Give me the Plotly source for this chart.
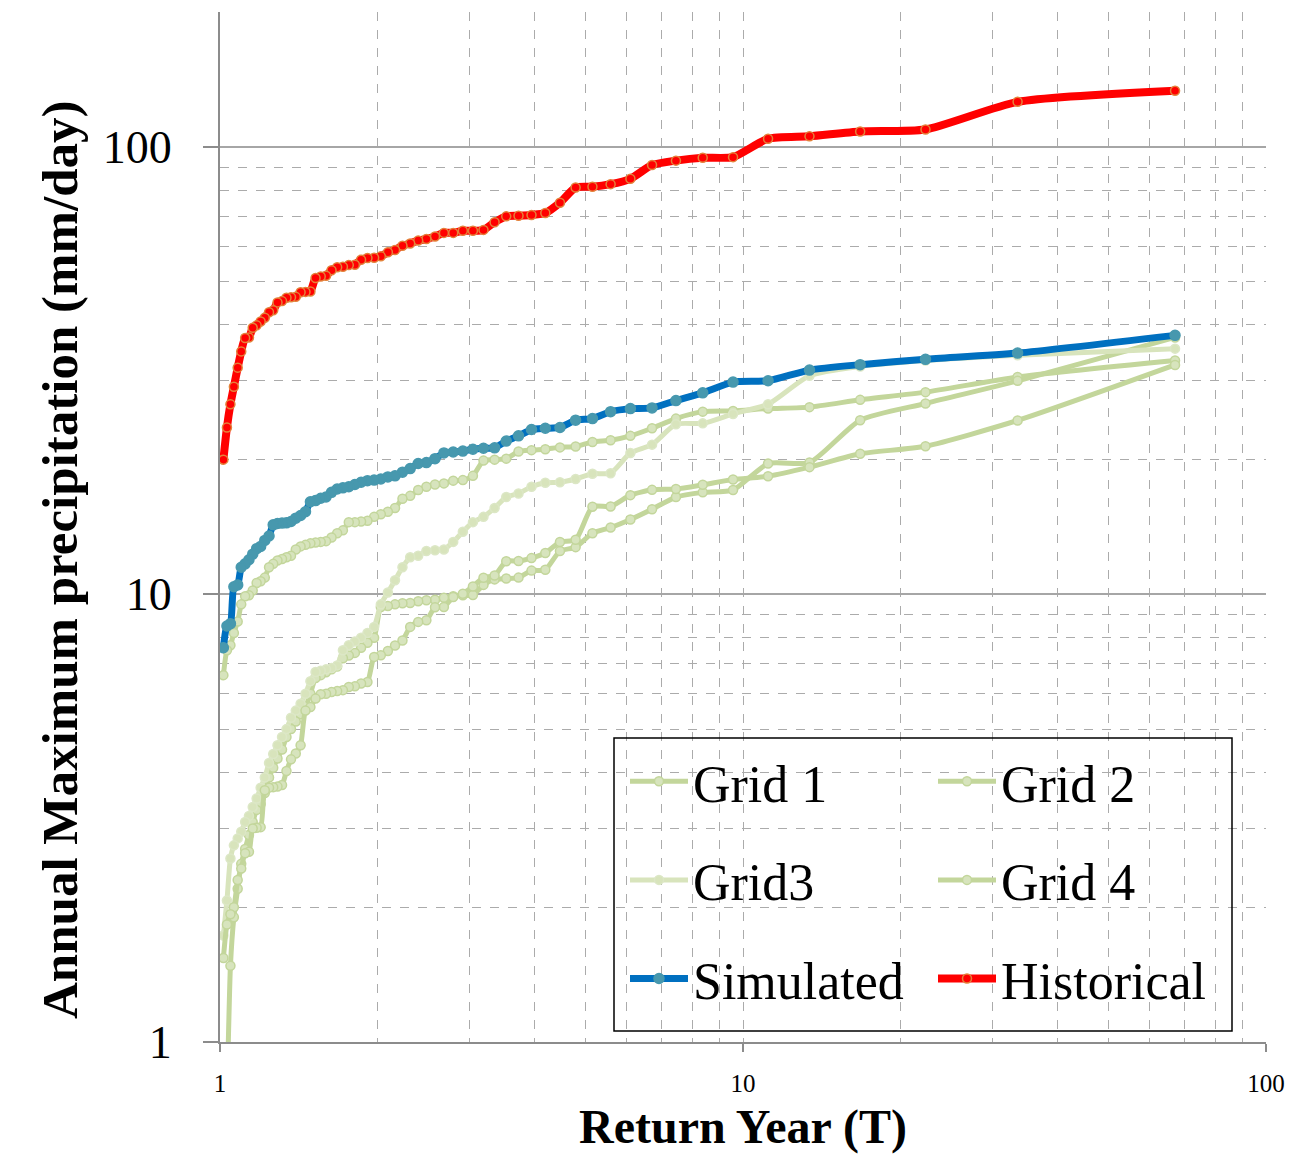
import plotly.graph_objects as go

# Return periods (Weibull plotting position, 66 ranked annual maxima)
return_years = [
    67.0, 33.5, 22.333, 16.75, 13.4, 11.167, 9.571, 8.375, 7.444, 6.7,
    6.091, 5.583, 5.154, 4.786, 4.467, 4.188, 3.941, 3.722, 3.526, 3.35,
    3.19, 3.045, 2.913, 2.792, 2.68, 2.577, 2.481, 2.393, 2.31, 2.233,
    2.161, 2.094, 2.03, 1.971, 1.914, 1.861, 1.811, 1.763, 1.718, 1.675,
    1.634, 1.595, 1.558, 1.523, 1.489, 1.457, 1.426, 1.396, 1.367, 1.34,
    1.314, 1.288, 1.264, 1.241, 1.218, 1.196, 1.175, 1.155, 1.136, 1.117,
    1.098, 1.081, 1.063, 1.047, 1.031, 1.015,
]

grid1 = [
    33.3, 30.6, 28.3, 27.2, 26.2, 26.0, 25.7, 25.6, 24.7, 23.5,
    22.6, 22.1, 21.9, 21.4, 21.3, 21.1, 21.0, 20.85, 20.1, 20.0,
    19.9, 18.4, 18.0, 17.95, 17.7, 17.6, 17.4, 17.1, 16.6, 16.35,
    15.6, 15.3, 15.1, 14.9, 14.6, 14.55, 14.5, 14.5, 13.9, 13.7,
    13.4, 13.15, 13.1, 13.05, 13.0, 12.9, 12.8, 12.6, 12.2, 12.1,
    12.0, 11.9, 11.7, 11.5, 10.9, 10.7, 10.6, 10.2, 9.95, 9.9,
    9.5, 8.7, 8.2, 7.7, 7.5, 6.6,
]

grid2 = [
    37.5, 30.0, 26.7, 24.5, 19.7, 19.6, 17.1, 16.9, 16.5, 15.5,
    14.7, 14.1, 13.7, 12.75, 12.5, 11.35, 11.3, 10.9, 10.85, 10.8,
    10.5, 9.97, 9.95, 9.9, 9.83, 9.73, 9.7, 9.65, 9.57, 9.55,
    9.5, 9.42, 9.37, 8.0, 7.8, 7.6, 7.4, 7.3, 7.2, 6.9,
    6.8, 6.7, 6.6, 6.5, 6.0, 5.6, 5.4, 5.2, 5.0, 4.8,
    4.5, 4.3, 4.1, 3.9, 3.6, 3.4, 3.3, 3.1, 2.9, 2.7,
    2.5, 2.2, 1.9, 1.48, 0.77, 0.55,
]

grid3 = [
    35.4, 34.2, 33.3, 32.3, 30.8, 26.6, 25.3, 24.1, 24.0, 21.6,
    20.7, 18.65, 18.6, 18.1, 17.8, 17.75, 17.4, 16.8, 16.5, 15.6,
    14.9, 14.5, 13.8, 13.1, 12.6, 12.55, 12.5, 12.2, 12.1, 11.5,
    10.75, 10.1, 9.5, 8.46, 8.2, 8.0, 7.85, 7.7, 7.5, 6.94,
    6.85, 6.8, 6.75, 6.71, 6.4, 6.0, 5.7, 5.5, 5.3, 5.0,
    4.8, 4.6, 4.4, 4.2, 3.9, 3.7, 3.5, 3.35, 3.2, 3.1,
    2.95, 2.85, 2.75, 2.57, 2.07, 1.73,
]

grid4 = [
    32.55, 24.46, 21.43, 20.61, 19.24, 18.36, 18.05, 17.57, 17.2, 17.12,
    16.66, 15.72, 15.7, 13.24, 13.09, 12.37, 12.05, 11.87, 11.86, 11.02,
    10.89, 10.42, 10.03, 9.86, 9.37, 9.36, 8.75, 8.68, 8.46, 7.89,
    7.69, 7.47, 7.31, 7.25, 6.37, 6.32, 6.23, 6.21, 6.11, 6.08,
    6.05, 6.0, 5.98, 5.85, 5.6, 5.5, 4.6, 4.41, 4.28, 4.03,
    3.75, 3.72, 3.71, 3.7, 3.65, 3.02, 3.01, 3.0, 2.66, 2.64,
    2.44, 2.3, 2.0, 1.93, 1.83, 1.54,
]

simulated = [
    37.9, 34.6, 33.5, 32.6, 31.7, 30.0, 29.8, 28.2, 27.1, 26.1,
    26.0, 25.6, 24.7, 24.5, 23.6, 23.5, 23.35, 22.6, 22.0, 21.25,
    21.2, 21.1, 20.9, 20.8, 20.7, 20.1, 19.7, 19.6, 19.1, 18.75,
    18.4, 18.3, 18.1, 18.0, 17.95, 17.8, 17.6, 17.4, 17.3, 17.2,
    16.9, 16.5, 16.4, 16.2, 16.1, 15.3, 15.0, 14.8, 14.55, 14.45,
    14.43, 14.4, 14.3, 13.5, 13.2, 12.8, 12.65, 12.3, 11.95, 11.7,
    11.5, 10.5, 10.4, 8.6, 8.5, 7.6,
]

historical = [
    133.4, 126.0, 109.3, 108.2, 105.5, 104.2, 94.8, 94.5, 93.1, 91.0,
    84.8, 82.5, 81.4, 81.1, 75.0, 71.1, 70.4, 70.1, 69.9, 67.8,
    65.2, 64.9, 64.9, 64.2, 64.2, 63.0, 62.2, 61.7, 60.8, 60.1,
    58.8, 58.1, 56.9, 56.5, 56.4, 55.9, 54.5, 54.4, 53.95, 53.8,
    53.0, 51.5, 51.3, 50.9, 47.5, 47.4, 47.3, 46.2, 46.1, 46.0,
    45.2, 44.9, 43.1, 42.7, 41.5, 40.7, 39.9, 39.4, 37.5, 37.4,
    34.9, 32.1, 29.1, 26.6, 23.6, 20.0,
]

FONT = "Liberation Serif, Times New Roman, serif"
GREEN = "#C3D69B"
GREEN_FILL = "#D7E4BD"
PALE = "#D8E4BC"
PALE_EDGE = "#DCE7C6"

series = [
    ("Grid 1", grid1, GREEN, GREEN_FILL, GREEN, 5, 9, "legend"),
    ("Grid 2", grid2, GREEN, GREEN_FILL, GREEN, 5, 9, "legend2"),
    ("Grid3", grid3, PALE, PALE, PALE_EDGE, 5, 9, "legend"),
    ("Grid 4", grid4, GREEN, GREEN_FILL, GREEN, 5, 9, "legend2"),
    ("Simulated", simulated, "#0070C0", "#4798AE", "#4798AE", 7, 10, "legend"),
    ("Historical", historical, "#FF0000", "#FF0000", "#E3823A", 8, 9, "legend2"),
]

fig = go.Figure()
for name, vals, lc, mfill, medge, lw, ms, leg in series:
    fig.add_trace(go.Scatter(
        x=return_years, y=vals, name=name, mode="lines+markers",
        line=dict(color=lc, width=lw, shape="spline", smoothing=0.6),
        marker=dict(size=ms, color=mfill, line=dict(color=medge, width=1.5)),
        legend=leg, legendgroup=name,
    ))

minor_vals = [2, 3, 4, 5, 6, 7, 8, 9, 20, 30, 40, 50, 60, 70, 80, 90]
GRID = "#ABABAB"
AXIS = "#8C8C8C"

fig.update_layout(
    width=1290, height=1157,
    margin=dict(l=220, r=24, t=12, b=115),
    paper_bgcolor="white", plot_bgcolor="white",
    font=dict(family=FONT, color="black"),
    xaxis=dict(
        type="log", range=[0, 2], automargin=False,
        tickvals=[1, 10, 100], ticktext=["1", "10", "100"],
        ticks="outside", ticklen=8, tickcolor=AXIS, tickwidth=1.5,
        tickfont=dict(size=25, family=FONT), ticklabelstandoff=10,
        showgrid=True, gridcolor=GRID, gridwidth=1, griddash="dash",
        minor=dict(tickvals=minor_vals, showgrid=True, gridcolor=GRID,
                   gridwidth=1, griddash="dash", ticks=""),
        showline=True, linecolor=AXIS, linewidth=2, zeroline=False,
    ),
    yaxis=dict(
        type="log", range=[0, 2.30103], automargin=False,
        tickvals=[1, 10, 100], ticktext=["1", "10", "100"],
        ticks="outside", ticklen=15, tickcolor=AXIS, tickwidth=1.5,
        tickfont=dict(size=46, family=FONT), ticklabelstandoff=22,
        showgrid=True, gridcolor="#A6A6A6", gridwidth=1.5,
        minor=dict(tickvals=minor_vals, showgrid=True, gridcolor=GRID,
                   gridwidth=1, griddash="dash", ticks=""),
        showline=True, linecolor=AXIS, linewidth=2, zeroline=False,
    ),
    legend=dict(
        x=(625 - 220) / 1046, y=(1042 - 741) / 1030, xanchor="left", yanchor="top",
        bgcolor="rgba(0,0,0,0)", borderwidth=0, itemwidth=58,
        font=dict(size=52, family=FONT), traceorder="grouped", tracegroupgap=28,
    ),
    legend2=dict(
        x=(933 - 220) / 1046, y=(1042 - 741) / 1030, xanchor="left", yanchor="top",
        bgcolor="rgba(0,0,0,0)", borderwidth=0, itemwidth=58,
        font=dict(size=52, family=FONT), traceorder="grouped", tracegroupgap=28,
    ),
    showlegend=True,
)

# axis titles
fig.add_annotation(
    text="<b>Return Year (T)</b>",
    xref="paper", yref="paper", x=0.5, y=(1042 - 1127) / 1030,
    xanchor="center", yanchor="middle", showarrow=False,
    font=dict(size=48, family=FONT, color="black"),
)
fig.add_annotation(
    text="<b>Annual Maximum precipitation (mm/day)</b>",
    xref="paper", yref="paper", x=(60 - 220) / 1046, y=(1042 - 560) / 1030,
    xanchor="center", yanchor="middle", textangle=-90, showarrow=False,
    font=dict(size=51, family=FONT, color="black"),
)

# legend frame
fig.add_shape(
    type="rect", xref="paper", yref="paper",
    x0=(614 - 220) / 1046, x1=(1232 - 220) / 1046,
    y0=(1042 - 1031) / 1030, y1=(1042 - 738) / 1030,
    line=dict(color="black", width=1.5), fillcolor="rgba(0,0,0,0)", layer="above",
)

fig.write_html("out.html")
